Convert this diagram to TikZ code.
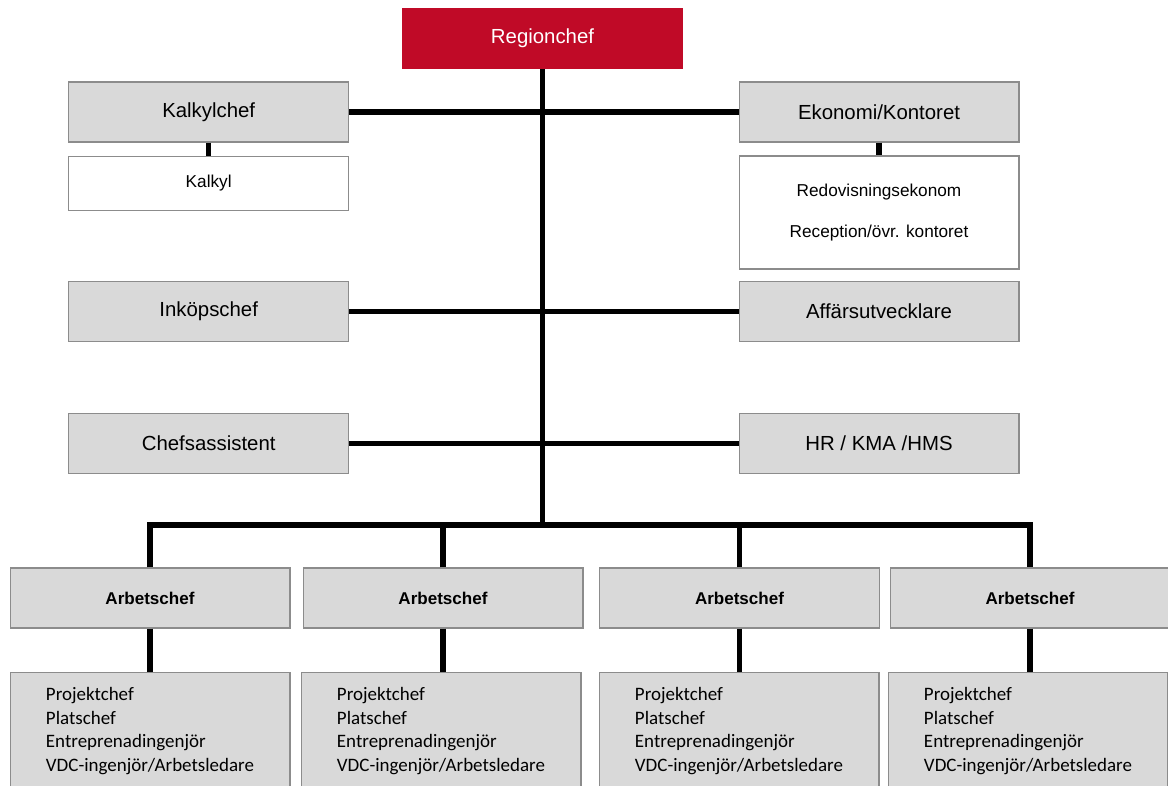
\documentclass[tikz,border=0pt]{standalone}
\usepackage{fontspec}
\setmainfont{Liberation Sans}
\newfontfamily\carlito{Carlito}
\definecolor{regionred}{HTML}{C00A27}
\definecolor{boxgray}{HTML}{D9D9D9}
\definecolor{edgegray}{HTML}{8C8C8C}

\begin{document}
\begin{tikzpicture}[x=0.02cm,y=-0.02cm,
        chefbox/.style={draw=edgegray,line width=0.6pt,fill=boxgray,minimum width=5.6cm,minimum height=1.2cm,inner sep=0pt,font=\fontsize{11.6}{14}\selectfont},
        staffbox/.style={draw=edgegray,line width=0.6pt,fill=white,minimum width=5.6cm,inner sep=0pt,align=center,font=\fontsize{9.8}{23.2}\selectfont},
        arbbox/.style={chefbox,font=\fontsize{9.7}{12}\selectfont\bfseries},
        listbox/.style={draw=edgegray,line width=0.6pt,fill=boxgray,minimum width=5.6cm,minimum height=2.36cm,inner sep=0pt,align=left,font=\carlito\fontsize{10.8}{13.6}\selectfont},
        link/.style={line width=2.9pt}]
        \useasboundingbox(0,0)rectangle(1168,785);
        \clip(0,0)rectangle(1168,785);

        \node[fill=regionred,text=white,minimum width=5.62cm,minimum height=1.22cm,inner sep=0pt,font=\fontsize{11.6}{14}\selectfont](reg)at(542.5,38.5){Regionchef};

        \node[chefbox](kalk)at(208.7,112){Kalkylchef};
        \node[staffbox,minimum height=1.08cm](kalkyl)at(208.7,183.5){Kalkyl};
        \node[chefbox](eko)at(879,112){Ekonomi/Kontoret};
        \node[staffbox,minimum height=2.26cm](redov)at(879,212.5){Redovisningsekonom\\Reception/övr. kontoret};
        \node[chefbox](inkop)at(208.7,311.7){Inköpschef};
        \node[chefbox](affar)at(879,311.7){Affärsutvecklare};
        \node[chefbox](chefs)at(208.7,443.5){Chefsassistent};
        \node[chefbox](hr)at(879,443.5){HR / KMA /HMS};

        \node[arbbox](arb1)at(150,598){Arbetschef};
        \node[arbbox](arb2)at(443,598){Arbetschef};
        \node[arbbox](arb3)at(739.5,598){Arbetschef};
        \node[arbbox](arb4)at(1030,598){Arbetschef};

        \node[listbox](list1)at(150,731){Projektchef\\Platschef\\Entreprenadingenjör\\VDC-ingenjör/Arbetsledare};
        \node[listbox](list2)at(441,731){Projektchef\\Platschef\\Entreprenadingenjör\\VDC-ingenjör/Arbetsledare};
        \node[listbox](list3)at(739,731){Projektchef\\Platschef\\Entreprenadingenjör\\VDC-ingenjör/Arbetsledare};
        \node[listbox](list4)at(1028,731){Projektchef\\Platschef\\Entreprenadingenjör\\VDC-ingenjör/Arbetsledare};

        \coordinate(bus)at(542.5,525);
        \draw[link](reg.south)--(bus);
        \draw[link](kalk)--(eko);
        \draw[link](inkop)--(affar);
        \draw[link](chefs)--(hr);
        \draw[link](kalk)--(kalkyl);
        \draw[link](eko)--(redov);

        \draw[link](arb1.north)|-(bus)-|(arb4.north);
        \draw[link](arb2.north)--(arb2.north|-bus);
        \draw[link](arb3.north)--(arb3.north|-bus);
        \foreach \i in {1,...,4}
            \draw[link](arb\i.south)--(arb\i.south|-list\i.north);
    \end{tikzpicture}
\end{document}
